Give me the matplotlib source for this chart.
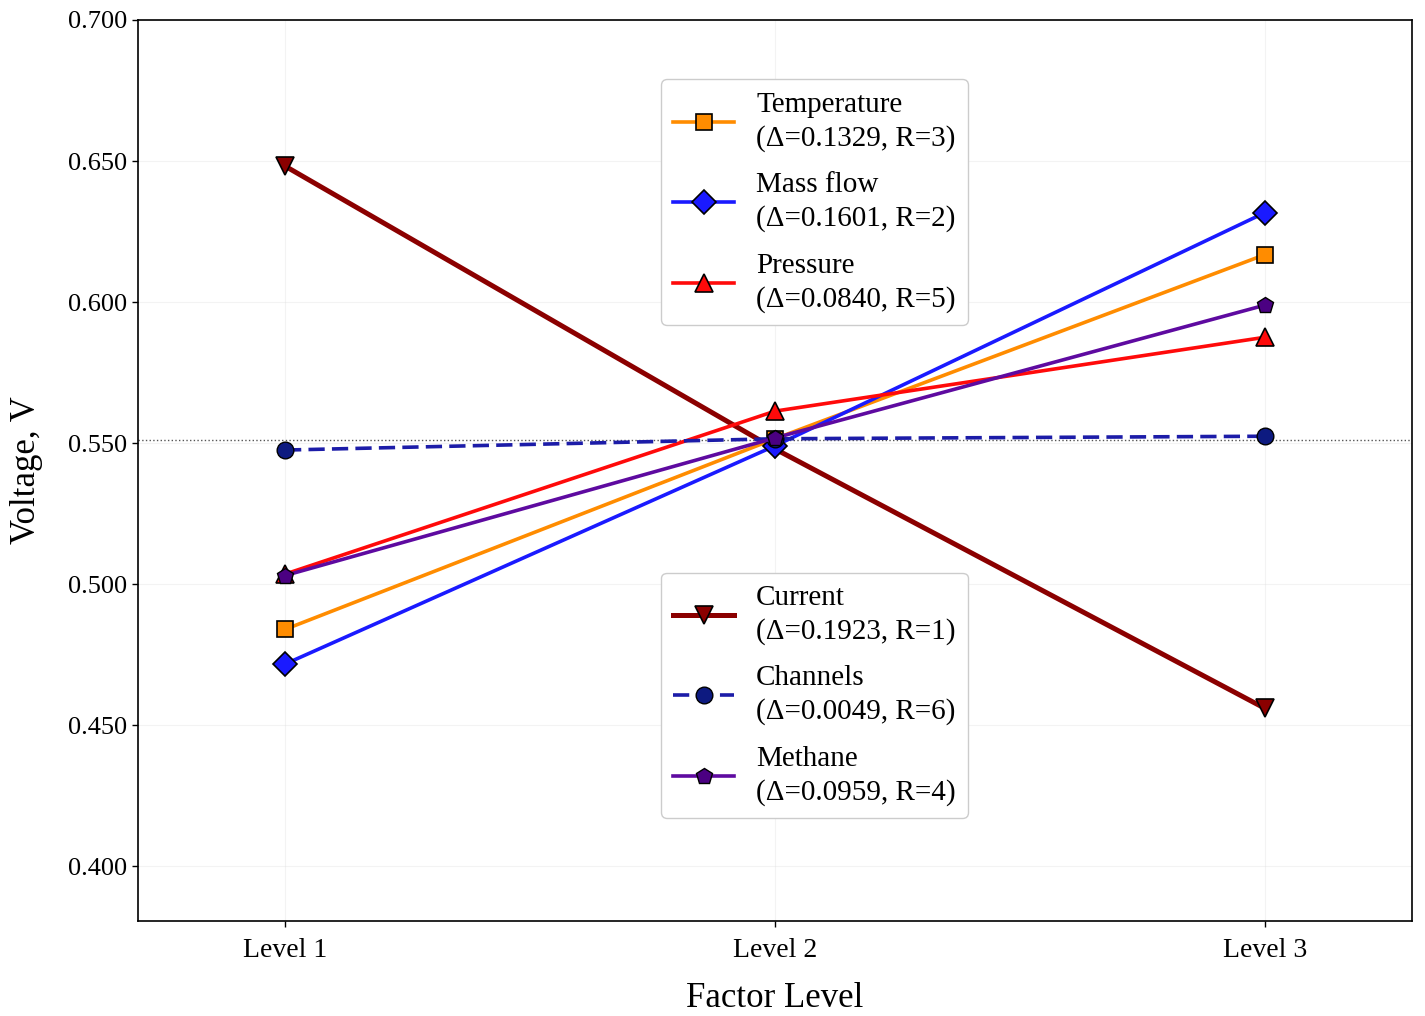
import matplotlib
matplotlib.use("Agg")
import matplotlib.pyplot as plt

plt.rcParams['font.family'] = ['Liberation Serif', 'DejaVu Serif']

levels = ["Level 1", "Level 2", "Level 3"]
x = [1, 2, 3]

current = [0.6482, 0.5479, 0.4559]
temperature = [0.4839, 0.5515, 0.6168]
mass_flow = [0.4716, 0.5490, 0.6317]
pressure = [0.5035, 0.5613, 0.5875]
channels = [0.5475, 0.5515, 0.5524]
methane = [0.5030, 0.5518, 0.5989]
grand_mean = 0.5511

labels = {
    "Temperature": "Temperature\n(Δ=0.1329, R=3)",
    "Mass flow": "Mass flow\n(Δ=0.1601, R=2)",
    "Pressure": "Pressure\n(Δ=0.0840, R=5)",
    "Current": "Current\n(Δ=0.1923, R=1)",
    "Channels": "Channels\n(Δ=0.0049, R=6)",
    "Methane": "Methane\n(Δ=0.0959, R=4)",
}
yticks = [0.400, 0.450, 0.500, 0.550, 0.600, 0.650, 0.700]

fig = plt.figure(figsize=(14.25, 10.16), dpi=100)
ax = fig.add_axes([138/1425, 1 - 921/1016, (1412-138)/1425, (921-20)/1016])

ax.axhline(grand_mean, color='#555555', linestyle=':', linewidth=1.0, zorder=1)

h_cur, = ax.plot(x, current, color='#8B0000', lw=3.6, marker='v', ms=13,
                 mfc='#8B0000', mec='black', mew=1.2, label=labels["Current"], zorder=3)
h_tmp, = ax.plot(x, temperature, color='#FF8C00', lw=2.6, marker='s', ms=12,
                 mfc='#FF8C00', mec='black', mew=1.2, label=labels["Temperature"], zorder=4)
h_mf, = ax.plot(x, mass_flow, color='#1a1aff', lw=2.6, marker='D', ms=12,
                mfc='#1a1aff', mec='black', mew=1.2, label=labels["Mass flow"], zorder=4)
h_pr, = ax.plot(x, pressure, color='#ff0a0a', lw=2.6, marker='^', ms=13,
                mfc='#ff0a0a', mec='black', mew=1.2, label=labels["Pressure"], zorder=4)
h_ch, = ax.plot(x, channels, color='#1c1ca8', lw=2.6, ls='--', dashes=(4.5, 2), marker='o', ms=12,
                mfc='#0d1a80', mec='black', mew=1.0, label=labels["Channels"], zorder=4)
h_me, = ax.plot(x, methane, color='#5e0aa0', lw=2.6, marker='p', ms=12,
                mfc='#4b0082', mec='black', mew=1.0, label=labels["Methane"], zorder=5)

ax.set_xlim(0.7, 3.3)
ax.set_ylim(0.3805, 0.700)
ax.set_xticks(x)
ax.set_xticklabels(levels)
ax.set_yticks(yticks)
ax.set_yticklabels([f"{v:.3f}" for v in yticks])
ax.tick_params(labelsize=19, length=4, width=1)
ax.tick_params(axis='x', labelsize=20, pad=8)
ax.grid(True, color='#dddddd', alpha=0.35, linewidth=0.8)
for s in ax.spines.values():
    s.set_linewidth(1.2)

ax.set_xlabel("Factor Level", fontsize=25, labelpad=14)
ax.set_ylabel("Voltage, V", fontsize=25, labelpad=18)

legkw = dict(fontsize=21, frameon=True, framealpha=1.0, edgecolor='#cccccc',
             handlelength=2.1, handletextpad=0.75, labelspacing=0.7,
             borderpad=0.42, borderaxespad=0.0)
leg1 = ax.legend(handles=[h_tmp, h_mf, h_pr], loc='upper center',
                 bbox_to_anchor=(0.531, 0.934), **legkw)
for t in leg1.get_texts():
    t.set_linespacing(1.35)
ax.add_artist(leg1)
leg2 = ax.legend(handles=[h_cur, h_ch, h_me], loc='lower center',
                 bbox_to_anchor=(0.531, 0.114), **legkw)
for t in leg2.get_texts():
    t.set_linespacing(1.35)

fig.savefig("out.png", dpi=100)
